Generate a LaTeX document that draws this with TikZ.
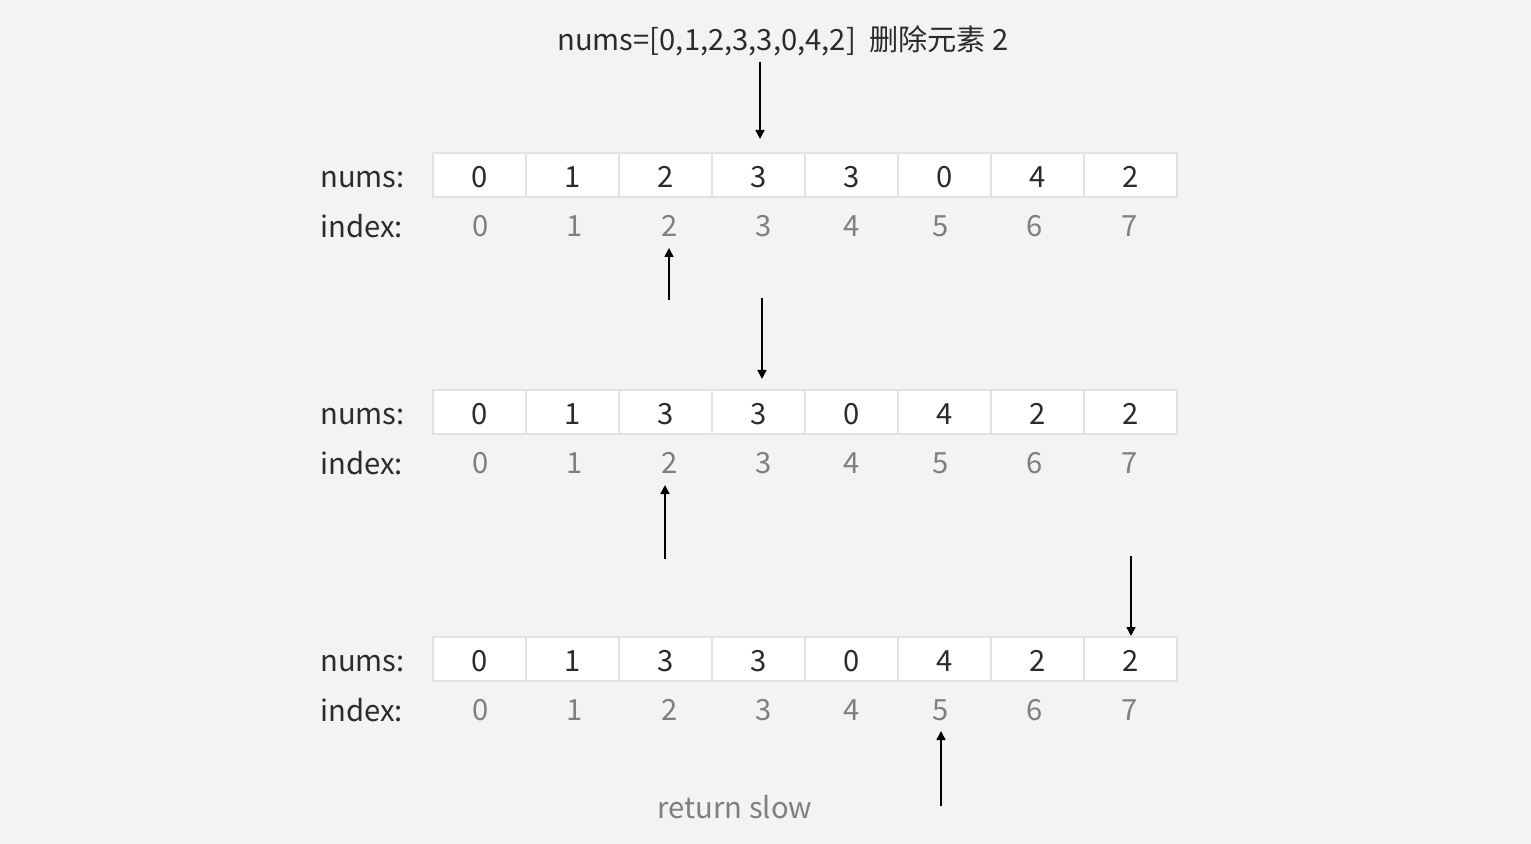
\documentclass[tikz,border=0pt]{standalone}
\usepackage{fontspec}
\setmainfont{Noto Sans CJK SC}
\usetikzlibrary{arrows.meta}
\definecolor{bg}{HTML}{F3F3F5}
\definecolor{cellline}{HTML}{E2E2E4}
\definecolor{idxgray}{HTML}{7F7F7F}
\definecolor{txt}{HTML}{2B2B2B}
\tikzset{
  fnt/.style={font=\fontsize{14.6}{17}\selectfont},
  cell/.style={draw=cellline, line width=0.6pt, fill=white, minimum width=46.5pt, minimum height=22pt, inner sep=0pt, fnt, text=txt, anchor=center},
  idx/.style={inner sep=0pt, fnt, text=idxgray},
  lab/.style={inner sep=0pt, anchor=west, fnt, text=txt},
  ptr/.style={line width=0.75pt, -{Triangle[length=4.5pt,width=4.5pt]}}
}
\begin{document}
\begin{tikzpicture}[x=0.5pt,y=-0.5pt]
\useasboundingbox[fill=bg] (0,0) rectangle (1531,844);
\node[inner sep=0pt, fnt, text=txt] (title) at (783,41) {nums=[0,1,2,3,3,0,4,2]\ \ 删除元素 2};
% rows
\foreach \r/\y/\vals in {1/175/{0,1,2,3,3,0,4,2}, 2/412/{0,1,3,3,0,4,2,2}, 3/659/{0,1,3,3,0,4,2,2}}{
  \node[lab] (nl\r) at (320,\y+5) {nums:};
  \node[lab] (il\r) at (320,\y+51) {index:};
  \foreach \v [count=\i from 0] in \vals {
    \node[cell] (c\r-\i) at (479.5+93*\i,\y) {};
    \node[inner sep=0pt, fnt, text=txt] (v\r-\i) at (479.5+93*\i,\y+2) {\v};
  }
  \foreach \xx [count=\i from 0] in {481,575,670,764,852,941,1035,1130} {
    \node[idx] (i\r-\i) at (\xx,\y+51) {\i};
  }
}
\node[inner sep=0pt, fnt, text=idxgray] (ret) at (735,807) {return slow};
% pointers
\coordinate (a1s) at (760,62);  \coordinate (a1e) at (760,139);
\coordinate (b1s) at (669,300); \coordinate (b1e) at (669,248);
\coordinate (a2s) at (762,298); \coordinate (a2e) at (762,379);
\coordinate (b2s) at (665,559); \coordinate (b2e) at (665,485);
\coordinate (a3s) at (1131,556); \coordinate (a3e) at (1131,636);
\coordinate (b3s) at (941,806); \coordinate (b3e) at (941,731);
\foreach \p in {a1,b1,a2,b2,a3,b3} { \draw[ptr] (\p s) -- (\p e); }
\end{tikzpicture}
\end{document}
